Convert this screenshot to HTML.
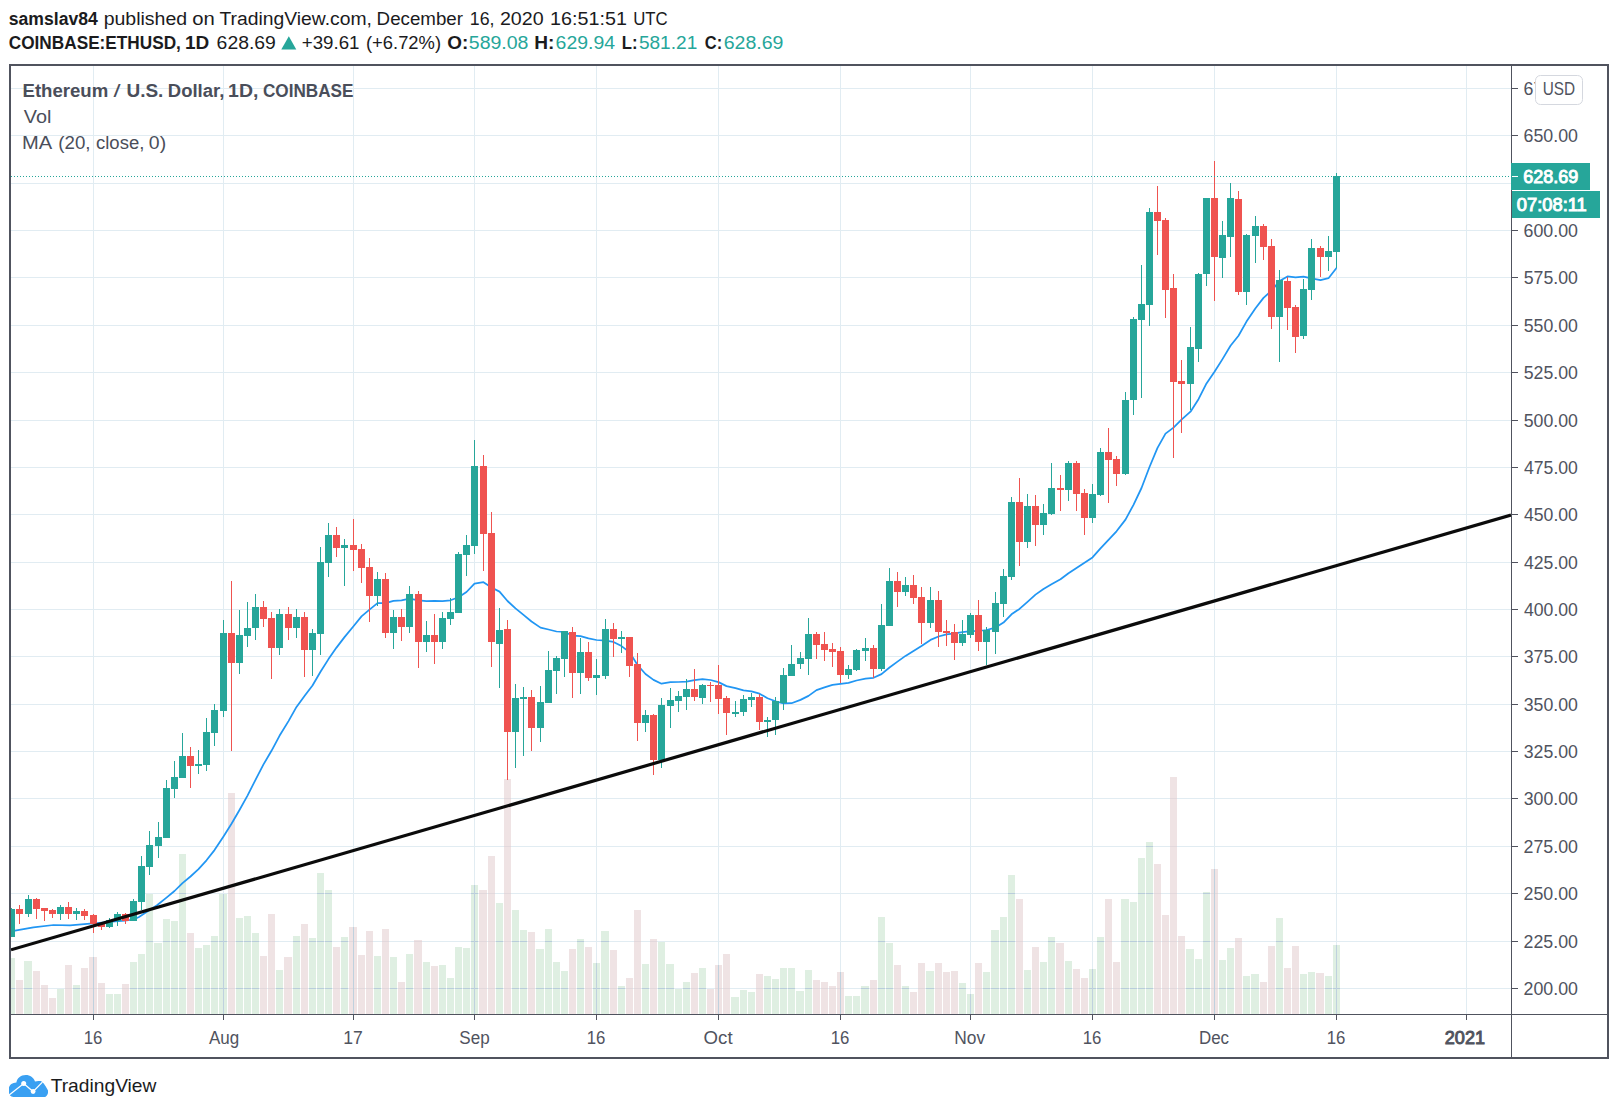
<!DOCTYPE html>
<html lang="en"><head><meta charset="utf-8"><title>ETHUSD chart</title>
<style>html,body{margin:0;padding:0;background:#fff}body{width:1618px;height:1113px;position:relative;overflow:hidden;font-family:"Liberation Sans",Arial,sans-serif}</style>
</head><body>
<svg width="1618" height="1113" viewBox="0 0 1618 1113" style="position:absolute;left:0;top:0">
<defs><clipPath id="pane"><rect x="11" y="66" width="1500" height="948"/></clipPath></defs>
<g shape-rendering="crispEdges" fill="#e1ecf2">
<rect x="11" y="988" width="1500" height="1"/>
<rect x="11" y="941" width="1500" height="1"/>
<rect x="11" y="893" width="1500" height="1"/>
<rect x="11" y="846" width="1500" height="1"/>
<rect x="11" y="798" width="1500" height="1"/>
<rect x="11" y="751" width="1500" height="1"/>
<rect x="11" y="704" width="1500" height="1"/>
<rect x="11" y="656" width="1500" height="1"/>
<rect x="11" y="609" width="1500" height="1"/>
<rect x="11" y="562" width="1500" height="1"/>
<rect x="11" y="514" width="1500" height="1"/>
<rect x="11" y="467" width="1500" height="1"/>
<rect x="11" y="420" width="1500" height="1"/>
<rect x="11" y="372" width="1500" height="1"/>
<rect x="11" y="325" width="1500" height="1"/>
<rect x="11" y="277" width="1500" height="1"/>
<rect x="11" y="230" width="1500" height="1"/>
<rect x="11" y="183" width="1500" height="1"/>
<rect x="11" y="135" width="1500" height="1"/>
<rect x="11" y="88" width="1500" height="1"/>
<rect x="93" y="66" width="1" height="948"/>
<rect x="223" y="66" width="1" height="948"/>
<rect x="353" y="66" width="1" height="948"/>
<rect x="474" y="66" width="1" height="948"/>
<rect x="596" y="66" width="1" height="948"/>
<rect x="718" y="66" width="1" height="948"/>
<rect x="840" y="66" width="1" height="948"/>
<rect x="970" y="66" width="1" height="948"/>
<rect x="1092" y="66" width="1" height="948"/>
<rect x="1214" y="66" width="1" height="948"/>
<rect x="1336" y="66" width="1" height="948"/>
<rect x="1466" y="66" width="1" height="948"/>
</g>
<g shape-rendering="crispEdges" clip-path="url(#pane)">
<rect x="8" y="958" width="7" height="56" fill="#dfefe2"/>
<rect x="8" y="988" width="7" height="1" fill="#b9cddb"/>
<rect x="16" y="980" width="7" height="34" fill="#efe3e4"/>
<rect x="16" y="988" width="7" height="1" fill="#e2d8dc"/>
<rect x="24" y="961" width="8" height="53" fill="#dfefe2"/>
<rect x="24" y="988" width="8" height="1" fill="#b9cddb"/>
<rect x="33" y="971" width="7" height="43" fill="#efe3e4"/>
<rect x="33" y="988" width="7" height="1" fill="#e2d8dc"/>
<rect x="41" y="985" width="7" height="29" fill="#efe3e4"/>
<rect x="41" y="988" width="7" height="1" fill="#e2d8dc"/>
<rect x="49" y="998" width="7" height="16" fill="#efe3e4"/>
<rect x="57" y="989" width="7" height="25" fill="#dfefe2"/>
<rect x="65" y="965" width="7" height="49" fill="#efe3e4"/>
<rect x="65" y="988" width="7" height="1" fill="#e2d8dc"/>
<rect x="73" y="985" width="7" height="29" fill="#dfefe2"/>
<rect x="73" y="988" width="7" height="1" fill="#b9cddb"/>
<rect x="81" y="968" width="7" height="46" fill="#efe3e4"/>
<rect x="81" y="988" width="7" height="1" fill="#e2d8dc"/>
<rect x="89" y="957" width="8" height="57" fill="#efe3e4"/>
<rect x="89" y="988" width="8" height="1" fill="#e2d8dc"/>
<rect x="98" y="983" width="7" height="31" fill="#efe3e4"/>
<rect x="98" y="988" width="7" height="1" fill="#e2d8dc"/>
<rect x="106" y="994" width="7" height="20" fill="#dfefe2"/>
<rect x="114" y="994" width="7" height="20" fill="#dfefe2"/>
<rect x="122" y="984" width="7" height="30" fill="#efe3e4"/>
<rect x="122" y="988" width="7" height="1" fill="#e2d8dc"/>
<rect x="130" y="962" width="7" height="52" fill="#dfefe2"/>
<rect x="130" y="988" width="7" height="1" fill="#b9cddb"/>
<rect x="138" y="954" width="7" height="60" fill="#dfefe2"/>
<rect x="138" y="988" width="7" height="1" fill="#b9cddb"/>
<rect x="146" y="894" width="7" height="120" fill="#dfefe2"/>
<rect x="146" y="988" width="7" height="1" fill="#b9cddb"/>
<rect x="146" y="941" width="7" height="1" fill="#b9cddb"/>
<rect x="154" y="943" width="8" height="71" fill="#dfefe2"/>
<rect x="154" y="988" width="8" height="1" fill="#b9cddb"/>
<rect x="163" y="919" width="7" height="95" fill="#dfefe2"/>
<rect x="163" y="988" width="7" height="1" fill="#b9cddb"/>
<rect x="163" y="941" width="7" height="1" fill="#b9cddb"/>
<rect x="171" y="921" width="7" height="93" fill="#dfefe2"/>
<rect x="171" y="988" width="7" height="1" fill="#b9cddb"/>
<rect x="171" y="941" width="7" height="1" fill="#b9cddb"/>
<rect x="179" y="854" width="7" height="160" fill="#dfefe2"/>
<rect x="179" y="988" width="7" height="1" fill="#b9cddb"/>
<rect x="179" y="941" width="7" height="1" fill="#b9cddb"/>
<rect x="179" y="893" width="7" height="1" fill="#b9cddb"/>
<rect x="187" y="933" width="7" height="81" fill="#efe3e4"/>
<rect x="187" y="988" width="7" height="1" fill="#e2d8dc"/>
<rect x="187" y="941" width="7" height="1" fill="#e2d8dc"/>
<rect x="195" y="948" width="7" height="66" fill="#dfefe2"/>
<rect x="195" y="988" width="7" height="1" fill="#b9cddb"/>
<rect x="203" y="945" width="7" height="69" fill="#dfefe2"/>
<rect x="203" y="988" width="7" height="1" fill="#b9cddb"/>
<rect x="211" y="936" width="7" height="78" fill="#dfefe2"/>
<rect x="211" y="988" width="7" height="1" fill="#b9cddb"/>
<rect x="211" y="941" width="7" height="1" fill="#b9cddb"/>
<rect x="219" y="894" width="8" height="120" fill="#dfefe2"/>
<rect x="219" y="988" width="8" height="1" fill="#b9cddb"/>
<rect x="219" y="941" width="8" height="1" fill="#b9cddb"/>
<rect x="228" y="793" width="7" height="221" fill="#efe3e4"/>
<rect x="228" y="988" width="7" height="1" fill="#e2d8dc"/>
<rect x="228" y="941" width="7" height="1" fill="#e2d8dc"/>
<rect x="228" y="893" width="7" height="1" fill="#e2d8dc"/>
<rect x="228" y="846" width="7" height="1" fill="#e2d8dc"/>
<rect x="228" y="798" width="7" height="1" fill="#e2d8dc"/>
<rect x="236" y="918" width="7" height="96" fill="#dfefe2"/>
<rect x="236" y="988" width="7" height="1" fill="#b9cddb"/>
<rect x="236" y="941" width="7" height="1" fill="#b9cddb"/>
<rect x="244" y="916" width="7" height="98" fill="#dfefe2"/>
<rect x="244" y="988" width="7" height="1" fill="#b9cddb"/>
<rect x="244" y="941" width="7" height="1" fill="#b9cddb"/>
<rect x="252" y="933" width="7" height="81" fill="#dfefe2"/>
<rect x="252" y="988" width="7" height="1" fill="#b9cddb"/>
<rect x="252" y="941" width="7" height="1" fill="#b9cddb"/>
<rect x="260" y="956" width="7" height="58" fill="#efe3e4"/>
<rect x="260" y="988" width="7" height="1" fill="#e2d8dc"/>
<rect x="268" y="914" width="7" height="100" fill="#efe3e4"/>
<rect x="268" y="988" width="7" height="1" fill="#e2d8dc"/>
<rect x="268" y="941" width="7" height="1" fill="#e2d8dc"/>
<rect x="276" y="970" width="7" height="44" fill="#dfefe2"/>
<rect x="276" y="988" width="7" height="1" fill="#b9cddb"/>
<rect x="284" y="957" width="8" height="57" fill="#efe3e4"/>
<rect x="284" y="988" width="8" height="1" fill="#e2d8dc"/>
<rect x="293" y="936" width="7" height="78" fill="#dfefe2"/>
<rect x="293" y="988" width="7" height="1" fill="#b9cddb"/>
<rect x="293" y="941" width="7" height="1" fill="#b9cddb"/>
<rect x="301" y="924" width="7" height="90" fill="#efe3e4"/>
<rect x="301" y="988" width="7" height="1" fill="#e2d8dc"/>
<rect x="301" y="941" width="7" height="1" fill="#e2d8dc"/>
<rect x="309" y="938" width="7" height="76" fill="#dfefe2"/>
<rect x="309" y="988" width="7" height="1" fill="#b9cddb"/>
<rect x="309" y="941" width="7" height="1" fill="#b9cddb"/>
<rect x="317" y="873" width="7" height="141" fill="#dfefe2"/>
<rect x="317" y="988" width="7" height="1" fill="#b9cddb"/>
<rect x="317" y="941" width="7" height="1" fill="#b9cddb"/>
<rect x="317" y="893" width="7" height="1" fill="#b9cddb"/>
<rect x="325" y="890" width="7" height="124" fill="#dfefe2"/>
<rect x="325" y="988" width="7" height="1" fill="#b9cddb"/>
<rect x="325" y="941" width="7" height="1" fill="#b9cddb"/>
<rect x="325" y="893" width="7" height="1" fill="#b9cddb"/>
<rect x="333" y="947" width="7" height="67" fill="#efe3e4"/>
<rect x="333" y="988" width="7" height="1" fill="#e2d8dc"/>
<rect x="341" y="937" width="7" height="77" fill="#dfefe2"/>
<rect x="341" y="988" width="7" height="1" fill="#b9cddb"/>
<rect x="341" y="941" width="7" height="1" fill="#b9cddb"/>
<rect x="349" y="927" width="8" height="87" fill="#efe3e4"/>
<rect x="349" y="988" width="8" height="1" fill="#e2d8dc"/>
<rect x="349" y="941" width="8" height="1" fill="#e2d8dc"/>
<rect x="358" y="955" width="7" height="59" fill="#efe3e4"/>
<rect x="358" y="988" width="7" height="1" fill="#e2d8dc"/>
<rect x="366" y="931" width="7" height="83" fill="#efe3e4"/>
<rect x="366" y="988" width="7" height="1" fill="#e2d8dc"/>
<rect x="366" y="941" width="7" height="1" fill="#e2d8dc"/>
<rect x="374" y="956" width="7" height="58" fill="#dfefe2"/>
<rect x="374" y="988" width="7" height="1" fill="#b9cddb"/>
<rect x="382" y="929" width="7" height="85" fill="#efe3e4"/>
<rect x="382" y="988" width="7" height="1" fill="#e2d8dc"/>
<rect x="382" y="941" width="7" height="1" fill="#e2d8dc"/>
<rect x="390" y="957" width="7" height="57" fill="#dfefe2"/>
<rect x="390" y="988" width="7" height="1" fill="#b9cddb"/>
<rect x="398" y="982" width="7" height="32" fill="#efe3e4"/>
<rect x="398" y="988" width="7" height="1" fill="#e2d8dc"/>
<rect x="406" y="954" width="7" height="60" fill="#dfefe2"/>
<rect x="406" y="988" width="7" height="1" fill="#b9cddb"/>
<rect x="414" y="940" width="8" height="74" fill="#efe3e4"/>
<rect x="414" y="988" width="8" height="1" fill="#e2d8dc"/>
<rect x="414" y="941" width="8" height="1" fill="#e2d8dc"/>
<rect x="423" y="962" width="7" height="52" fill="#dfefe2"/>
<rect x="423" y="988" width="7" height="1" fill="#b9cddb"/>
<rect x="431" y="966" width="7" height="48" fill="#efe3e4"/>
<rect x="431" y="988" width="7" height="1" fill="#e2d8dc"/>
<rect x="439" y="965" width="7" height="49" fill="#dfefe2"/>
<rect x="439" y="988" width="7" height="1" fill="#b9cddb"/>
<rect x="447" y="978" width="7" height="36" fill="#dfefe2"/>
<rect x="447" y="988" width="7" height="1" fill="#b9cddb"/>
<rect x="455" y="947" width="7" height="67" fill="#dfefe2"/>
<rect x="455" y="988" width="7" height="1" fill="#b9cddb"/>
<rect x="463" y="948" width="7" height="66" fill="#dfefe2"/>
<rect x="463" y="988" width="7" height="1" fill="#b9cddb"/>
<rect x="471" y="885" width="7" height="129" fill="#dfefe2"/>
<rect x="471" y="988" width="7" height="1" fill="#b9cddb"/>
<rect x="471" y="941" width="7" height="1" fill="#b9cddb"/>
<rect x="471" y="893" width="7" height="1" fill="#b9cddb"/>
<rect x="479" y="890" width="8" height="124" fill="#efe3e4"/>
<rect x="479" y="988" width="8" height="1" fill="#e2d8dc"/>
<rect x="479" y="941" width="8" height="1" fill="#e2d8dc"/>
<rect x="479" y="893" width="8" height="1" fill="#e2d8dc"/>
<rect x="488" y="856" width="7" height="158" fill="#efe3e4"/>
<rect x="488" y="988" width="7" height="1" fill="#e2d8dc"/>
<rect x="488" y="941" width="7" height="1" fill="#e2d8dc"/>
<rect x="488" y="893" width="7" height="1" fill="#e2d8dc"/>
<rect x="496" y="903" width="7" height="111" fill="#dfefe2"/>
<rect x="496" y="988" width="7" height="1" fill="#b9cddb"/>
<rect x="496" y="941" width="7" height="1" fill="#b9cddb"/>
<rect x="504" y="779" width="7" height="235" fill="#efe3e4"/>
<rect x="504" y="988" width="7" height="1" fill="#e2d8dc"/>
<rect x="504" y="941" width="7" height="1" fill="#e2d8dc"/>
<rect x="504" y="893" width="7" height="1" fill="#e2d8dc"/>
<rect x="504" y="846" width="7" height="1" fill="#e2d8dc"/>
<rect x="504" y="798" width="7" height="1" fill="#e2d8dc"/>
<rect x="512" y="910" width="7" height="104" fill="#dfefe2"/>
<rect x="512" y="988" width="7" height="1" fill="#b9cddb"/>
<rect x="512" y="941" width="7" height="1" fill="#b9cddb"/>
<rect x="520" y="930" width="7" height="84" fill="#dfefe2"/>
<rect x="520" y="988" width="7" height="1" fill="#b9cddb"/>
<rect x="520" y="941" width="7" height="1" fill="#b9cddb"/>
<rect x="528" y="932" width="7" height="82" fill="#efe3e4"/>
<rect x="528" y="988" width="7" height="1" fill="#e2d8dc"/>
<rect x="528" y="941" width="7" height="1" fill="#e2d8dc"/>
<rect x="536" y="949" width="8" height="65" fill="#dfefe2"/>
<rect x="536" y="988" width="8" height="1" fill="#b9cddb"/>
<rect x="545" y="929" width="7" height="85" fill="#dfefe2"/>
<rect x="545" y="988" width="7" height="1" fill="#b9cddb"/>
<rect x="545" y="941" width="7" height="1" fill="#b9cddb"/>
<rect x="553" y="962" width="7" height="52" fill="#dfefe2"/>
<rect x="553" y="988" width="7" height="1" fill="#b9cddb"/>
<rect x="561" y="971" width="7" height="43" fill="#dfefe2"/>
<rect x="561" y="988" width="7" height="1" fill="#b9cddb"/>
<rect x="569" y="949" width="7" height="65" fill="#efe3e4"/>
<rect x="569" y="988" width="7" height="1" fill="#e2d8dc"/>
<rect x="577" y="939" width="7" height="75" fill="#dfefe2"/>
<rect x="577" y="988" width="7" height="1" fill="#b9cddb"/>
<rect x="577" y="941" width="7" height="1" fill="#b9cddb"/>
<rect x="585" y="947" width="7" height="67" fill="#efe3e4"/>
<rect x="585" y="988" width="7" height="1" fill="#e2d8dc"/>
<rect x="593" y="963" width="7" height="51" fill="#dfefe2"/>
<rect x="593" y="988" width="7" height="1" fill="#b9cddb"/>
<rect x="601" y="931" width="8" height="83" fill="#dfefe2"/>
<rect x="601" y="988" width="8" height="1" fill="#b9cddb"/>
<rect x="601" y="941" width="8" height="1" fill="#b9cddb"/>
<rect x="610" y="950" width="7" height="64" fill="#efe3e4"/>
<rect x="610" y="988" width="7" height="1" fill="#e2d8dc"/>
<rect x="618" y="986" width="7" height="28" fill="#dfefe2"/>
<rect x="618" y="988" width="7" height="1" fill="#b9cddb"/>
<rect x="626" y="978" width="7" height="36" fill="#efe3e4"/>
<rect x="626" y="988" width="7" height="1" fill="#e2d8dc"/>
<rect x="634" y="910" width="7" height="104" fill="#efe3e4"/>
<rect x="634" y="988" width="7" height="1" fill="#e2d8dc"/>
<rect x="634" y="941" width="7" height="1" fill="#e2d8dc"/>
<rect x="642" y="964" width="7" height="50" fill="#dfefe2"/>
<rect x="642" y="988" width="7" height="1" fill="#b9cddb"/>
<rect x="650" y="939" width="7" height="75" fill="#efe3e4"/>
<rect x="650" y="988" width="7" height="1" fill="#e2d8dc"/>
<rect x="650" y="941" width="7" height="1" fill="#e2d8dc"/>
<rect x="658" y="942" width="7" height="72" fill="#dfefe2"/>
<rect x="658" y="988" width="7" height="1" fill="#b9cddb"/>
<rect x="666" y="964" width="8" height="50" fill="#dfefe2"/>
<rect x="666" y="988" width="8" height="1" fill="#b9cddb"/>
<rect x="675" y="989" width="7" height="25" fill="#dfefe2"/>
<rect x="683" y="982" width="7" height="32" fill="#dfefe2"/>
<rect x="683" y="988" width="7" height="1" fill="#b9cddb"/>
<rect x="691" y="973" width="7" height="41" fill="#efe3e4"/>
<rect x="691" y="988" width="7" height="1" fill="#e2d8dc"/>
<rect x="699" y="968" width="7" height="46" fill="#dfefe2"/>
<rect x="699" y="988" width="7" height="1" fill="#b9cddb"/>
<rect x="707" y="989" width="7" height="25" fill="#efe3e4"/>
<rect x="715" y="965" width="7" height="49" fill="#efe3e4"/>
<rect x="715" y="988" width="7" height="1" fill="#e2d8dc"/>
<rect x="723" y="954" width="7" height="60" fill="#efe3e4"/>
<rect x="723" y="988" width="7" height="1" fill="#e2d8dc"/>
<rect x="731" y="997" width="8" height="17" fill="#dfefe2"/>
<rect x="740" y="990" width="7" height="24" fill="#dfefe2"/>
<rect x="748" y="992" width="7" height="22" fill="#dfefe2"/>
<rect x="756" y="974" width="7" height="40" fill="#efe3e4"/>
<rect x="756" y="988" width="7" height="1" fill="#e2d8dc"/>
<rect x="764" y="976" width="7" height="38" fill="#dfefe2"/>
<rect x="764" y="988" width="7" height="1" fill="#b9cddb"/>
<rect x="772" y="979" width="7" height="35" fill="#dfefe2"/>
<rect x="772" y="988" width="7" height="1" fill="#b9cddb"/>
<rect x="780" y="968" width="7" height="46" fill="#dfefe2"/>
<rect x="780" y="988" width="7" height="1" fill="#b9cddb"/>
<rect x="788" y="968" width="7" height="46" fill="#dfefe2"/>
<rect x="788" y="988" width="7" height="1" fill="#b9cddb"/>
<rect x="796" y="991" width="8" height="23" fill="#dfefe2"/>
<rect x="805" y="970" width="7" height="44" fill="#dfefe2"/>
<rect x="805" y="988" width="7" height="1" fill="#b9cddb"/>
<rect x="813" y="980" width="7" height="34" fill="#efe3e4"/>
<rect x="813" y="988" width="7" height="1" fill="#e2d8dc"/>
<rect x="821" y="982" width="7" height="32" fill="#efe3e4"/>
<rect x="821" y="988" width="7" height="1" fill="#e2d8dc"/>
<rect x="829" y="986" width="7" height="28" fill="#efe3e4"/>
<rect x="829" y="988" width="7" height="1" fill="#e2d8dc"/>
<rect x="837" y="972" width="7" height="42" fill="#efe3e4"/>
<rect x="837" y="988" width="7" height="1" fill="#e2d8dc"/>
<rect x="845" y="996" width="7" height="18" fill="#dfefe2"/>
<rect x="853" y="996" width="7" height="18" fill="#dfefe2"/>
<rect x="861" y="986" width="8" height="28" fill="#dfefe2"/>
<rect x="861" y="988" width="8" height="1" fill="#b9cddb"/>
<rect x="870" y="980" width="7" height="34" fill="#efe3e4"/>
<rect x="870" y="988" width="7" height="1" fill="#e2d8dc"/>
<rect x="878" y="917" width="7" height="97" fill="#dfefe2"/>
<rect x="878" y="988" width="7" height="1" fill="#b9cddb"/>
<rect x="878" y="941" width="7" height="1" fill="#b9cddb"/>
<rect x="886" y="943" width="7" height="71" fill="#dfefe2"/>
<rect x="886" y="988" width="7" height="1" fill="#b9cddb"/>
<rect x="894" y="965" width="7" height="49" fill="#efe3e4"/>
<rect x="894" y="988" width="7" height="1" fill="#e2d8dc"/>
<rect x="902" y="986" width="7" height="28" fill="#dfefe2"/>
<rect x="902" y="988" width="7" height="1" fill="#b9cddb"/>
<rect x="910" y="992" width="7" height="22" fill="#efe3e4"/>
<rect x="918" y="963" width="7" height="51" fill="#efe3e4"/>
<rect x="918" y="988" width="7" height="1" fill="#e2d8dc"/>
<rect x="926" y="971" width="8" height="43" fill="#dfefe2"/>
<rect x="926" y="988" width="8" height="1" fill="#b9cddb"/>
<rect x="935" y="963" width="7" height="51" fill="#efe3e4"/>
<rect x="935" y="988" width="7" height="1" fill="#e2d8dc"/>
<rect x="943" y="972" width="7" height="42" fill="#efe3e4"/>
<rect x="943" y="988" width="7" height="1" fill="#e2d8dc"/>
<rect x="951" y="971" width="7" height="43" fill="#efe3e4"/>
<rect x="951" y="988" width="7" height="1" fill="#e2d8dc"/>
<rect x="959" y="983" width="7" height="31" fill="#dfefe2"/>
<rect x="959" y="988" width="7" height="1" fill="#b9cddb"/>
<rect x="967" y="994" width="7" height="20" fill="#dfefe2"/>
<rect x="975" y="963" width="7" height="51" fill="#efe3e4"/>
<rect x="975" y="988" width="7" height="1" fill="#e2d8dc"/>
<rect x="983" y="972" width="7" height="42" fill="#dfefe2"/>
<rect x="983" y="988" width="7" height="1" fill="#b9cddb"/>
<rect x="991" y="930" width="8" height="84" fill="#dfefe2"/>
<rect x="991" y="988" width="8" height="1" fill="#b9cddb"/>
<rect x="991" y="941" width="8" height="1" fill="#b9cddb"/>
<rect x="1000" y="917" width="7" height="97" fill="#dfefe2"/>
<rect x="1000" y="988" width="7" height="1" fill="#b9cddb"/>
<rect x="1000" y="941" width="7" height="1" fill="#b9cddb"/>
<rect x="1008" y="875" width="7" height="139" fill="#dfefe2"/>
<rect x="1008" y="988" width="7" height="1" fill="#b9cddb"/>
<rect x="1008" y="941" width="7" height="1" fill="#b9cddb"/>
<rect x="1008" y="893" width="7" height="1" fill="#b9cddb"/>
<rect x="1016" y="899" width="7" height="115" fill="#efe3e4"/>
<rect x="1016" y="988" width="7" height="1" fill="#e2d8dc"/>
<rect x="1016" y="941" width="7" height="1" fill="#e2d8dc"/>
<rect x="1024" y="970" width="7" height="44" fill="#dfefe2"/>
<rect x="1024" y="988" width="7" height="1" fill="#b9cddb"/>
<rect x="1032" y="947" width="7" height="67" fill="#efe3e4"/>
<rect x="1032" y="988" width="7" height="1" fill="#e2d8dc"/>
<rect x="1040" y="962" width="7" height="52" fill="#dfefe2"/>
<rect x="1040" y="988" width="7" height="1" fill="#b9cddb"/>
<rect x="1048" y="937" width="7" height="77" fill="#dfefe2"/>
<rect x="1048" y="988" width="7" height="1" fill="#b9cddb"/>
<rect x="1048" y="941" width="7" height="1" fill="#b9cddb"/>
<rect x="1056" y="943" width="8" height="71" fill="#efe3e4"/>
<rect x="1056" y="988" width="8" height="1" fill="#e2d8dc"/>
<rect x="1065" y="961" width="7" height="53" fill="#dfefe2"/>
<rect x="1065" y="988" width="7" height="1" fill="#b9cddb"/>
<rect x="1073" y="969" width="7" height="45" fill="#efe3e4"/>
<rect x="1073" y="988" width="7" height="1" fill="#e2d8dc"/>
<rect x="1081" y="978" width="7" height="36" fill="#efe3e4"/>
<rect x="1081" y="988" width="7" height="1" fill="#e2d8dc"/>
<rect x="1089" y="969" width="7" height="45" fill="#dfefe2"/>
<rect x="1089" y="988" width="7" height="1" fill="#b9cddb"/>
<rect x="1097" y="937" width="7" height="77" fill="#dfefe2"/>
<rect x="1097" y="988" width="7" height="1" fill="#b9cddb"/>
<rect x="1097" y="941" width="7" height="1" fill="#b9cddb"/>
<rect x="1105" y="899" width="7" height="115" fill="#efe3e4"/>
<rect x="1105" y="988" width="7" height="1" fill="#e2d8dc"/>
<rect x="1105" y="941" width="7" height="1" fill="#e2d8dc"/>
<rect x="1113" y="962" width="7" height="52" fill="#efe3e4"/>
<rect x="1113" y="988" width="7" height="1" fill="#e2d8dc"/>
<rect x="1121" y="899" width="8" height="115" fill="#dfefe2"/>
<rect x="1121" y="988" width="8" height="1" fill="#b9cddb"/>
<rect x="1121" y="941" width="8" height="1" fill="#b9cddb"/>
<rect x="1130" y="902" width="7" height="112" fill="#dfefe2"/>
<rect x="1130" y="988" width="7" height="1" fill="#b9cddb"/>
<rect x="1130" y="941" width="7" height="1" fill="#b9cddb"/>
<rect x="1138" y="858" width="7" height="156" fill="#dfefe2"/>
<rect x="1138" y="988" width="7" height="1" fill="#b9cddb"/>
<rect x="1138" y="941" width="7" height="1" fill="#b9cddb"/>
<rect x="1138" y="893" width="7" height="1" fill="#b9cddb"/>
<rect x="1146" y="842" width="7" height="172" fill="#dfefe2"/>
<rect x="1146" y="988" width="7" height="1" fill="#b9cddb"/>
<rect x="1146" y="941" width="7" height="1" fill="#b9cddb"/>
<rect x="1146" y="893" width="7" height="1" fill="#b9cddb"/>
<rect x="1146" y="846" width="7" height="1" fill="#b9cddb"/>
<rect x="1154" y="864" width="7" height="150" fill="#efe3e4"/>
<rect x="1154" y="988" width="7" height="1" fill="#e2d8dc"/>
<rect x="1154" y="941" width="7" height="1" fill="#e2d8dc"/>
<rect x="1154" y="893" width="7" height="1" fill="#e2d8dc"/>
<rect x="1162" y="915" width="7" height="99" fill="#efe3e4"/>
<rect x="1162" y="988" width="7" height="1" fill="#e2d8dc"/>
<rect x="1162" y="941" width="7" height="1" fill="#e2d8dc"/>
<rect x="1170" y="777" width="7" height="237" fill="#efe3e4"/>
<rect x="1170" y="988" width="7" height="1" fill="#e2d8dc"/>
<rect x="1170" y="941" width="7" height="1" fill="#e2d8dc"/>
<rect x="1170" y="893" width="7" height="1" fill="#e2d8dc"/>
<rect x="1170" y="846" width="7" height="1" fill="#e2d8dc"/>
<rect x="1170" y="798" width="7" height="1" fill="#e2d8dc"/>
<rect x="1178" y="936" width="7" height="78" fill="#efe3e4"/>
<rect x="1178" y="988" width="7" height="1" fill="#e2d8dc"/>
<rect x="1178" y="941" width="7" height="1" fill="#e2d8dc"/>
<rect x="1186" y="949" width="8" height="65" fill="#dfefe2"/>
<rect x="1186" y="988" width="8" height="1" fill="#b9cddb"/>
<rect x="1195" y="959" width="7" height="55" fill="#dfefe2"/>
<rect x="1195" y="988" width="7" height="1" fill="#b9cddb"/>
<rect x="1203" y="892" width="7" height="122" fill="#dfefe2"/>
<rect x="1203" y="988" width="7" height="1" fill="#b9cddb"/>
<rect x="1203" y="941" width="7" height="1" fill="#b9cddb"/>
<rect x="1203" y="893" width="7" height="1" fill="#b9cddb"/>
<rect x="1211" y="869" width="7" height="145" fill="#efe3e4"/>
<rect x="1211" y="988" width="7" height="1" fill="#e2d8dc"/>
<rect x="1211" y="941" width="7" height="1" fill="#e2d8dc"/>
<rect x="1211" y="893" width="7" height="1" fill="#e2d8dc"/>
<rect x="1219" y="960" width="7" height="54" fill="#dfefe2"/>
<rect x="1219" y="988" width="7" height="1" fill="#b9cddb"/>
<rect x="1227" y="948" width="7" height="66" fill="#dfefe2"/>
<rect x="1227" y="988" width="7" height="1" fill="#b9cddb"/>
<rect x="1235" y="938" width="7" height="76" fill="#efe3e4"/>
<rect x="1235" y="988" width="7" height="1" fill="#e2d8dc"/>
<rect x="1235" y="941" width="7" height="1" fill="#e2d8dc"/>
<rect x="1243" y="976" width="7" height="38" fill="#dfefe2"/>
<rect x="1243" y="988" width="7" height="1" fill="#b9cddb"/>
<rect x="1251" y="974" width="8" height="40" fill="#dfefe2"/>
<rect x="1251" y="988" width="8" height="1" fill="#b9cddb"/>
<rect x="1260" y="982" width="7" height="32" fill="#efe3e4"/>
<rect x="1260" y="988" width="7" height="1" fill="#e2d8dc"/>
<rect x="1268" y="946" width="7" height="68" fill="#efe3e4"/>
<rect x="1268" y="988" width="7" height="1" fill="#e2d8dc"/>
<rect x="1276" y="918" width="7" height="96" fill="#dfefe2"/>
<rect x="1276" y="988" width="7" height="1" fill="#b9cddb"/>
<rect x="1276" y="941" width="7" height="1" fill="#b9cddb"/>
<rect x="1284" y="968" width="7" height="46" fill="#efe3e4"/>
<rect x="1284" y="988" width="7" height="1" fill="#e2d8dc"/>
<rect x="1292" y="946" width="7" height="68" fill="#efe3e4"/>
<rect x="1292" y="988" width="7" height="1" fill="#e2d8dc"/>
<rect x="1300" y="974" width="7" height="40" fill="#dfefe2"/>
<rect x="1300" y="988" width="7" height="1" fill="#b9cddb"/>
<rect x="1308" y="972" width="7" height="42" fill="#dfefe2"/>
<rect x="1308" y="988" width="7" height="1" fill="#b9cddb"/>
<rect x="1316" y="973" width="8" height="41" fill="#efe3e4"/>
<rect x="1316" y="988" width="8" height="1" fill="#e2d8dc"/>
<rect x="1325" y="976" width="7" height="38" fill="#dfefe2"/>
<rect x="1325" y="988" width="7" height="1" fill="#b9cddb"/>
<rect x="1333" y="945" width="7" height="69" fill="#dfefe2"/>
<rect x="1333" y="988" width="7" height="1" fill="#b9cddb"/>
</g>
<g shape-rendering="crispEdges" fill="#bfd1de">
<rect x="93" y="957" width="1" height="57"/>
<rect x="223" y="894" width="1" height="120"/>
<rect x="353" y="927" width="1" height="87"/>
<rect x="474" y="885" width="1" height="129"/>
<rect x="596" y="963" width="1" height="51"/>
<rect x="718" y="965" width="1" height="49"/>
<rect x="840" y="972" width="1" height="42"/>
<rect x="970" y="994" width="1" height="20"/>
<rect x="1092" y="969" width="1" height="45"/>
<rect x="1214" y="869" width="1" height="145"/>
<rect x="1336" y="945" width="1" height="69"/>
</g>
<polyline points="11.0,931.3 15.0,930.7 33.4,927.3 53.5,925.0 70.0,925.3 90.0,923.7 108.6,922.0 125.0,920.6 133.7,919.5 139.0,917.0 145.4,912.8 157.0,905.3 166.5,897.6 174.5,891.0 182.5,883.1 190.5,876.5 198.5,869.2 206.5,860.3 214.5,850.1 223.5,836.4 231.5,823.8 239.5,810.0 247.5,795.6 255.5,779.8 263.5,764.4 271.5,750.8 279.5,735.8 288.5,721.1 296.5,706.9 304.5,696.1 312.5,685.5 320.5,671.7 328.5,659.1 336.5,647.6 344.5,637.1 353.5,626.3 361.5,616.4 369.5,609.6 377.5,603.1 385.5,603.1 393.5,600.8 401.5,600.4 409.5,598.7 418.5,600.4 426.5,601.2 434.5,600.9 442.5,601.1 450.5,600.3 458.5,597.2 466.5,592.0 474.5,583.6 483.5,582.2 491.5,587.5 499.5,591.6 507.5,601.0 515.5,608.4 523.5,614.9 531.5,621.5 540.5,627.6 548.5,629.5 556.5,631.5 564.5,631.8 572.5,635.7 580.5,636.2 588.5,638.4 596.5,640.0 605.5,640.6 613.5,641.9 621.5,646.1 629.5,652.1 637.5,665.0 645.5,674.0 653.5,679.9 661.5,683.7 670.5,682.1 678.5,682.0 686.5,681.6 694.5,680.1 702.5,679.2 710.5,680.0 718.5,682.1 726.5,686.1 735.5,688.1 743.5,690.4 751.5,691.4 759.5,693.7 767.5,698.2 775.5,701.3 783.5,703.3 791.5,703.2 800.5,699.9 808.5,695.9 816.5,690.1 824.5,687.4 832.5,684.9 840.5,683.9 848.5,682.9 856.5,680.5 865.5,678.7 873.5,677.8 881.5,674.1 889.5,667.5 897.5,661.6 905.5,655.9 913.5,650.9 921.5,645.9 930.5,639.9 938.5,636.5 946.5,634.3 954.5,633.3 962.5,632.1 970.5,631.1 978.5,631.0 986.5,630.0 995.5,627.6 1003.5,622.6 1011.5,614.3 1019.5,608.9 1027.5,601.8 1035.5,594.6 1043.5,589.0 1051.5,584.3 1060.5,579.3 1068.5,573.2 1076.5,568.0 1084.5,562.7 1092.5,557.4 1100.5,548.4 1108.5,539.8 1116.5,531.3 1125.5,519.6 1133.5,504.8 1141.5,488.0 1149.5,467.0 1157.5,447.9 1165.5,433.6 1173.5,427.6 1181.5,419.6 1190.5,411.7 1198.5,399.2 1206.5,383.4 1214.5,371.8 1222.5,359.1 1230.5,345.8 1238.5,335.7 1246.5,321.6 1255.5,308.2 1263.5,297.9 1271.5,290.7 1279.5,281.1 1287.5,276.4 1295.5,277.3 1303.5,276.6 1311.5,278.4 1320.5,280.2 1328.5,278.2 1336.5,268.0" fill="none" stroke="#2196f3" stroke-width="1.75" stroke-linejoin="round" clip-path="url(#pane)"/>
<g shape-rendering="crispEdges" clip-path="url(#pane)">
<rect x="11" y="908" width="1" height="29" fill="#26a69a"/><rect x="8" y="909" width="7" height="28" fill="#26a69a"/>
<rect x="19" y="905" width="1" height="19" fill="#ef5350"/><rect x="16" y="909" width="7" height="5" fill="#ef5350"/>
<rect x="28" y="895" width="1" height="22" fill="#26a69a"/><rect x="25" y="899" width="7" height="15" fill="#26a69a"/>
<rect x="36" y="898" width="1" height="21" fill="#ef5350"/><rect x="33" y="899" width="7" height="10" fill="#ef5350"/>
<rect x="44" y="908" width="1" height="13" fill="#ef5350"/><rect x="41" y="908" width="7" height="3" fill="#ef5350"/>
<rect x="52" y="909" width="1" height="9" fill="#ef5350"/><rect x="49" y="910" width="7" height="4" fill="#ef5350"/>
<rect x="60" y="905" width="1" height="15" fill="#26a69a"/><rect x="57" y="907" width="7" height="7" fill="#26a69a"/>
<rect x="68" y="902" width="1" height="17" fill="#ef5350"/><rect x="65" y="907" width="7" height="7" fill="#ef5350"/>
<rect x="76" y="908" width="1" height="12" fill="#26a69a"/><rect x="73" y="911" width="7" height="3" fill="#26a69a"/>
<rect x="84" y="909" width="1" height="11" fill="#ef5350"/><rect x="81" y="911" width="7" height="5" fill="#ef5350"/>
<rect x="93" y="914" width="1" height="19" fill="#ef5350"/><rect x="90" y="915" width="7" height="9" fill="#ef5350"/>
<rect x="101" y="924" width="1" height="6" fill="#ef5350"/><rect x="98" y="924" width="7" height="3" fill="#ef5350"/>
<rect x="109" y="918" width="1" height="10" fill="#26a69a"/><rect x="106" y="920" width="7" height="7" fill="#26a69a"/>
<rect x="117" y="912" width="1" height="14" fill="#26a69a"/><rect x="114" y="914" width="7" height="7" fill="#26a69a"/>
<rect x="125" y="913" width="1" height="11" fill="#ef5350"/><rect x="122" y="914" width="7" height="7" fill="#ef5350"/>
<rect x="133" y="899" width="1" height="22" fill="#26a69a"/><rect x="130" y="901" width="7" height="20" fill="#26a69a"/>
<rect x="141" y="856" width="1" height="54" fill="#26a69a"/><rect x="138" y="866" width="7" height="36" fill="#26a69a"/>
<rect x="149" y="831" width="1" height="44" fill="#26a69a"/><rect x="146" y="845" width="7" height="22" fill="#26a69a"/>
<rect x="158" y="822" width="1" height="36" fill="#26a69a"/><rect x="155" y="837" width="7" height="9" fill="#26a69a"/>
<rect x="166" y="780" width="1" height="58" fill="#26a69a"/><rect x="163" y="788" width="7" height="50" fill="#26a69a"/>
<rect x="174" y="761" width="1" height="37" fill="#26a69a"/><rect x="171" y="777" width="7" height="12" fill="#26a69a"/>
<rect x="182" y="733" width="1" height="45" fill="#26a69a"/><rect x="179" y="756" width="7" height="22" fill="#26a69a"/>
<rect x="190" y="747" width="1" height="41" fill="#ef5350"/><rect x="187" y="756" width="7" height="10" fill="#ef5350"/>
<rect x="198" y="750" width="1" height="24" fill="#26a69a"/><rect x="195" y="764" width="7" height="2" fill="#26a69a"/>
<rect x="206" y="718" width="1" height="53" fill="#26a69a"/><rect x="203" y="732" width="7" height="33" fill="#26a69a"/>
<rect x="214" y="704" width="1" height="42" fill="#26a69a"/><rect x="211" y="710" width="7" height="23" fill="#26a69a"/>
<rect x="223" y="620" width="1" height="97" fill="#26a69a"/><rect x="220" y="633" width="7" height="78" fill="#26a69a"/>
<rect x="231" y="581" width="1" height="170" fill="#ef5350"/><rect x="228" y="633" width="7" height="30" fill="#ef5350"/>
<rect x="239" y="610" width="1" height="64" fill="#26a69a"/><rect x="236" y="635" width="7" height="28" fill="#26a69a"/>
<rect x="247" y="602" width="1" height="45" fill="#26a69a"/><rect x="244" y="628" width="7" height="8" fill="#26a69a"/>
<rect x="255" y="594" width="1" height="46" fill="#26a69a"/><rect x="252" y="607" width="7" height="21" fill="#26a69a"/>
<rect x="263" y="601" width="1" height="26" fill="#ef5350"/><rect x="260" y="607" width="7" height="12" fill="#ef5350"/>
<rect x="271" y="612" width="1" height="67" fill="#ef5350"/><rect x="268" y="618" width="7" height="30" fill="#ef5350"/>
<rect x="279" y="609" width="1" height="46" fill="#26a69a"/><rect x="276" y="614" width="7" height="34" fill="#26a69a"/>
<rect x="288" y="607" width="1" height="33" fill="#ef5350"/><rect x="285" y="614" width="7" height="14" fill="#ef5350"/>
<rect x="296" y="609" width="1" height="29" fill="#26a69a"/><rect x="293" y="617" width="7" height="11" fill="#26a69a"/>
<rect x="304" y="612" width="1" height="65" fill="#ef5350"/><rect x="301" y="617" width="7" height="33" fill="#ef5350"/>
<rect x="312" y="629" width="1" height="47" fill="#26a69a"/><rect x="309" y="633" width="7" height="17" fill="#26a69a"/>
<rect x="320" y="547" width="1" height="108" fill="#26a69a"/><rect x="317" y="562" width="7" height="72" fill="#26a69a"/>
<rect x="328" y="523" width="1" height="54" fill="#26a69a"/><rect x="325" y="535" width="7" height="28" fill="#26a69a"/>
<rect x="336" y="527" width="1" height="30" fill="#ef5350"/><rect x="333" y="535" width="7" height="13" fill="#ef5350"/>
<rect x="344" y="539" width="1" height="47" fill="#26a69a"/><rect x="341" y="545" width="7" height="3" fill="#26a69a"/>
<rect x="353" y="519" width="1" height="52" fill="#ef5350"/><rect x="350" y="545" width="7" height="5" fill="#ef5350"/>
<rect x="361" y="544" width="1" height="39" fill="#ef5350"/><rect x="358" y="549" width="7" height="19" fill="#ef5350"/>
<rect x="369" y="558" width="1" height="64" fill="#ef5350"/><rect x="366" y="567" width="7" height="29" fill="#ef5350"/>
<rect x="377" y="572" width="1" height="34" fill="#26a69a"/><rect x="374" y="579" width="7" height="17" fill="#26a69a"/>
<rect x="385" y="573" width="1" height="65" fill="#ef5350"/><rect x="382" y="579" width="7" height="54" fill="#ef5350"/>
<rect x="393" y="610" width="1" height="39" fill="#26a69a"/><rect x="390" y="617" width="7" height="16" fill="#26a69a"/>
<rect x="401" y="609" width="1" height="32" fill="#ef5350"/><rect x="398" y="617" width="7" height="10" fill="#ef5350"/>
<rect x="409" y="586" width="1" height="47" fill="#26a69a"/><rect x="406" y="594" width="7" height="33" fill="#26a69a"/>
<rect x="418" y="591" width="1" height="77" fill="#ef5350"/><rect x="415" y="594" width="7" height="48" fill="#ef5350"/>
<rect x="426" y="621" width="1" height="31" fill="#26a69a"/><rect x="423" y="635" width="7" height="7" fill="#26a69a"/>
<rect x="434" y="614" width="1" height="50" fill="#ef5350"/><rect x="431" y="635" width="7" height="7" fill="#ef5350"/>
<rect x="442" y="612" width="1" height="37" fill="#26a69a"/><rect x="439" y="618" width="7" height="24" fill="#26a69a"/>
<rect x="450" y="598" width="1" height="27" fill="#26a69a"/><rect x="447" y="612" width="7" height="7" fill="#26a69a"/>
<rect x="458" y="552" width="1" height="61" fill="#26a69a"/><rect x="455" y="554" width="7" height="59" fill="#26a69a"/>
<rect x="466" y="535" width="1" height="41" fill="#26a69a"/><rect x="463" y="545" width="7" height="10" fill="#26a69a"/>
<rect x="474" y="440" width="1" height="114" fill="#26a69a"/><rect x="471" y="466" width="7" height="80" fill="#26a69a"/>
<rect x="483" y="455" width="1" height="116" fill="#ef5350"/><rect x="480" y="466" width="7" height="68" fill="#ef5350"/>
<rect x="491" y="512" width="1" height="155" fill="#ef5350"/><rect x="488" y="533" width="7" height="109" fill="#ef5350"/>
<rect x="499" y="608" width="1" height="80" fill="#26a69a"/><rect x="496" y="630" width="7" height="14" fill="#26a69a"/>
<rect x="507" y="620" width="1" height="160" fill="#ef5350"/><rect x="504" y="629" width="7" height="103" fill="#ef5350"/>
<rect x="515" y="684" width="1" height="84" fill="#26a69a"/><rect x="512" y="698" width="7" height="34" fill="#26a69a"/>
<rect x="523" y="687" width="1" height="69" fill="#26a69a"/><rect x="520" y="697" width="7" height="2" fill="#26a69a"/>
<rect x="531" y="690" width="1" height="61" fill="#ef5350"/><rect x="528" y="697" width="7" height="31" fill="#ef5350"/>
<rect x="540" y="686" width="1" height="56" fill="#26a69a"/><rect x="537" y="702" width="7" height="26" fill="#26a69a"/>
<rect x="548" y="651" width="1" height="52" fill="#26a69a"/><rect x="545" y="670" width="7" height="33" fill="#26a69a"/>
<rect x="556" y="656" width="1" height="38" fill="#26a69a"/><rect x="553" y="658" width="7" height="13" fill="#26a69a"/>
<rect x="564" y="631" width="1" height="46" fill="#26a69a"/><rect x="561" y="631" width="7" height="28" fill="#26a69a"/>
<rect x="572" y="627" width="1" height="71" fill="#ef5350"/><rect x="569" y="632" width="7" height="41" fill="#ef5350"/>
<rect x="580" y="638" width="1" height="56" fill="#26a69a"/><rect x="577" y="652" width="7" height="21" fill="#26a69a"/>
<rect x="588" y="642" width="1" height="39" fill="#ef5350"/><rect x="585" y="652" width="7" height="26" fill="#ef5350"/>
<rect x="596" y="659" width="1" height="36" fill="#26a69a"/><rect x="593" y="675" width="7" height="3" fill="#26a69a"/>
<rect x="605" y="619" width="1" height="60" fill="#26a69a"/><rect x="602" y="629" width="7" height="47" fill="#26a69a"/>
<rect x="613" y="623" width="1" height="34" fill="#ef5350"/><rect x="610" y="629" width="7" height="10" fill="#ef5350"/>
<rect x="621" y="631" width="1" height="22" fill="#26a69a"/><rect x="618" y="637" width="7" height="2" fill="#26a69a"/>
<rect x="629" y="637" width="1" height="40" fill="#ef5350"/><rect x="626" y="637" width="7" height="29" fill="#ef5350"/>
<rect x="637" y="653" width="1" height="88" fill="#ef5350"/><rect x="634" y="664" width="7" height="59" fill="#ef5350"/>
<rect x="645" y="710" width="1" height="22" fill="#26a69a"/><rect x="642" y="715" width="7" height="8" fill="#26a69a"/>
<rect x="653" y="714" width="1" height="61" fill="#ef5350"/><rect x="650" y="715" width="7" height="45" fill="#ef5350"/>
<rect x="661" y="698" width="1" height="70" fill="#26a69a"/><rect x="658" y="705" width="7" height="55" fill="#26a69a"/>
<rect x="670" y="688" width="1" height="40" fill="#26a69a"/><rect x="667" y="700" width="7" height="6" fill="#26a69a"/>
<rect x="678" y="691" width="1" height="21" fill="#26a69a"/><rect x="675" y="696" width="7" height="5" fill="#26a69a"/>
<rect x="686" y="679" width="1" height="31" fill="#26a69a"/><rect x="683" y="689" width="7" height="8" fill="#26a69a"/>
<rect x="694" y="669" width="1" height="32" fill="#ef5350"/><rect x="691" y="689" width="7" height="8" fill="#ef5350"/>
<rect x="702" y="684" width="1" height="20" fill="#26a69a"/><rect x="699" y="685" width="7" height="13" fill="#26a69a"/>
<rect x="710" y="682" width="1" height="20" fill="#ef5350"/><rect x="707" y="685" width="7" height="1" fill="#ef5350"/>
<rect x="718" y="665" width="1" height="49" fill="#ef5350"/><rect x="715" y="685" width="7" height="14" fill="#ef5350"/>
<rect x="726" y="696" width="1" height="39" fill="#ef5350"/><rect x="723" y="698" width="7" height="15" fill="#ef5350"/>
<rect x="735" y="701" width="1" height="16" fill="#26a69a"/><rect x="732" y="712" width="7" height="2" fill="#26a69a"/>
<rect x="743" y="695" width="1" height="21" fill="#26a69a"/><rect x="740" y="699" width="7" height="13" fill="#26a69a"/>
<rect x="751" y="693" width="1" height="14" fill="#26a69a"/><rect x="748" y="697" width="7" height="3" fill="#26a69a"/>
<rect x="759" y="694" width="1" height="36" fill="#ef5350"/><rect x="756" y="697" width="7" height="25" fill="#ef5350"/>
<rect x="767" y="717" width="1" height="20" fill="#26a69a"/><rect x="764" y="720" width="7" height="2" fill="#26a69a"/>
<rect x="775" y="697" width="1" height="38" fill="#26a69a"/><rect x="772" y="701" width="7" height="19" fill="#26a69a"/>
<rect x="783" y="668" width="1" height="42" fill="#26a69a"/><rect x="780" y="675" width="7" height="28" fill="#26a69a"/>
<rect x="791" y="645" width="1" height="31" fill="#26a69a"/><rect x="788" y="664" width="7" height="12" fill="#26a69a"/>
<rect x="800" y="652" width="1" height="17" fill="#26a69a"/><rect x="797" y="658" width="7" height="6" fill="#26a69a"/>
<rect x="808" y="618" width="1" height="57" fill="#26a69a"/><rect x="805" y="634" width="7" height="25" fill="#26a69a"/>
<rect x="816" y="632" width="1" height="27" fill="#ef5350"/><rect x="813" y="634" width="7" height="11" fill="#ef5350"/>
<rect x="824" y="632" width="1" height="29" fill="#ef5350"/><rect x="821" y="644" width="7" height="6" fill="#ef5350"/>
<rect x="832" y="643" width="1" height="24" fill="#ef5350"/><rect x="829" y="649" width="7" height="3" fill="#ef5350"/>
<rect x="840" y="647" width="1" height="36" fill="#ef5350"/><rect x="837" y="651" width="7" height="24" fill="#ef5350"/>
<rect x="848" y="665" width="1" height="14" fill="#26a69a"/><rect x="845" y="669" width="7" height="6" fill="#26a69a"/>
<rect x="856" y="649" width="1" height="22" fill="#26a69a"/><rect x="853" y="650" width="7" height="20" fill="#26a69a"/>
<rect x="865" y="638" width="1" height="23" fill="#26a69a"/><rect x="862" y="648" width="7" height="3" fill="#26a69a"/>
<rect x="873" y="645" width="1" height="33" fill="#ef5350"/><rect x="870" y="648" width="7" height="21" fill="#ef5350"/>
<rect x="881" y="604" width="1" height="67" fill="#26a69a"/><rect x="878" y="625" width="7" height="44" fill="#26a69a"/>
<rect x="889" y="568" width="1" height="58" fill="#26a69a"/><rect x="886" y="581" width="7" height="45" fill="#26a69a"/>
<rect x="897" y="572" width="1" height="35" fill="#ef5350"/><rect x="894" y="581" width="7" height="11" fill="#ef5350"/>
<rect x="905" y="577" width="1" height="19" fill="#26a69a"/><rect x="902" y="585" width="7" height="7" fill="#26a69a"/>
<rect x="913" y="575" width="1" height="29" fill="#ef5350"/><rect x="910" y="585" width="7" height="13" fill="#ef5350"/>
<rect x="921" y="587" width="1" height="57" fill="#ef5350"/><rect x="918" y="597" width="7" height="26" fill="#ef5350"/>
<rect x="930" y="587" width="1" height="41" fill="#26a69a"/><rect x="927" y="600" width="7" height="23" fill="#26a69a"/>
<rect x="938" y="591" width="1" height="56" fill="#ef5350"/><rect x="935" y="600" width="7" height="32" fill="#ef5350"/>
<rect x="946" y="620" width="1" height="26" fill="#ef5350"/><rect x="943" y="631" width="7" height="2" fill="#ef5350"/>
<rect x="954" y="624" width="1" height="36" fill="#ef5350"/><rect x="951" y="632" width="7" height="11" fill="#ef5350"/>
<rect x="962" y="620" width="1" height="26" fill="#26a69a"/><rect x="959" y="634" width="7" height="9" fill="#26a69a"/>
<rect x="970" y="613" width="1" height="25" fill="#26a69a"/><rect x="967" y="615" width="7" height="20" fill="#26a69a"/>
<rect x="978" y="600" width="1" height="51" fill="#ef5350"/><rect x="975" y="615" width="7" height="27" fill="#ef5350"/>
<rect x="986" y="627" width="1" height="38" fill="#26a69a"/><rect x="983" y="630" width="7" height="12" fill="#26a69a"/>
<rect x="995" y="592" width="1" height="62" fill="#26a69a"/><rect x="992" y="603" width="7" height="29" fill="#26a69a"/>
<rect x="1003" y="569" width="1" height="48" fill="#26a69a"/><rect x="1000" y="576" width="7" height="28" fill="#26a69a"/>
<rect x="1011" y="497" width="1" height="83" fill="#26a69a"/><rect x="1008" y="502" width="7" height="75" fill="#26a69a"/>
<rect x="1019" y="478" width="1" height="88" fill="#ef5350"/><rect x="1016" y="502" width="7" height="40" fill="#ef5350"/>
<rect x="1027" y="494" width="1" height="54" fill="#26a69a"/><rect x="1024" y="506" width="7" height="36" fill="#26a69a"/>
<rect x="1035" y="495" width="1" height="51" fill="#ef5350"/><rect x="1032" y="506" width="7" height="19" fill="#ef5350"/>
<rect x="1043" y="504" width="1" height="31" fill="#26a69a"/><rect x="1040" y="513" width="7" height="12" fill="#26a69a"/>
<rect x="1051" y="463" width="1" height="52" fill="#26a69a"/><rect x="1048" y="488" width="7" height="26" fill="#26a69a"/>
<rect x="1060" y="475" width="1" height="36" fill="#ef5350"/><rect x="1057" y="488" width="7" height="2" fill="#ef5350"/>
<rect x="1068" y="461" width="1" height="40" fill="#26a69a"/><rect x="1065" y="463" width="7" height="27" fill="#26a69a"/>
<rect x="1076" y="461" width="1" height="50" fill="#ef5350"/><rect x="1073" y="463" width="7" height="31" fill="#ef5350"/>
<rect x="1084" y="489" width="1" height="46" fill="#ef5350"/><rect x="1081" y="493" width="7" height="25" fill="#ef5350"/>
<rect x="1092" y="484" width="1" height="39" fill="#26a69a"/><rect x="1089" y="494" width="7" height="24" fill="#26a69a"/>
<rect x="1100" y="448" width="1" height="48" fill="#26a69a"/><rect x="1097" y="452" width="7" height="43" fill="#26a69a"/>
<rect x="1108" y="428" width="1" height="75" fill="#ef5350"/><rect x="1105" y="452" width="7" height="8" fill="#ef5350"/>
<rect x="1116" y="456" width="1" height="30" fill="#ef5350"/><rect x="1113" y="459" width="7" height="15" fill="#ef5350"/>
<rect x="1125" y="392" width="1" height="83" fill="#26a69a"/><rect x="1122" y="400" width="7" height="74" fill="#26a69a"/>
<rect x="1133" y="317" width="1" height="98" fill="#26a69a"/><rect x="1130" y="319" width="7" height="81" fill="#26a69a"/>
<rect x="1141" y="265" width="1" height="133" fill="#26a69a"/><rect x="1138" y="304" width="7" height="16" fill="#26a69a"/>
<rect x="1149" y="208" width="1" height="118" fill="#26a69a"/><rect x="1146" y="212" width="7" height="93" fill="#26a69a"/>
<rect x="1157" y="186" width="1" height="69" fill="#ef5350"/><rect x="1154" y="212" width="7" height="9" fill="#ef5350"/>
<rect x="1165" y="218" width="1" height="100" fill="#ef5350"/><rect x="1162" y="220" width="7" height="70" fill="#ef5350"/>
<rect x="1173" y="274" width="1" height="184" fill="#ef5350"/><rect x="1170" y="288" width="7" height="94" fill="#ef5350"/>
<rect x="1181" y="360" width="1" height="73" fill="#ef5350"/><rect x="1178" y="381" width="7" height="3" fill="#ef5350"/>
<rect x="1190" y="327" width="1" height="83" fill="#26a69a"/><rect x="1187" y="347" width="7" height="37" fill="#26a69a"/>
<rect x="1198" y="273" width="1" height="89" fill="#26a69a"/><rect x="1195" y="274" width="7" height="75" fill="#26a69a"/>
<rect x="1206" y="198" width="1" height="88" fill="#26a69a"/><rect x="1203" y="198" width="7" height="76" fill="#26a69a"/>
<rect x="1214" y="161" width="1" height="140" fill="#ef5350"/><rect x="1211" y="198" width="7" height="59" fill="#ef5350"/>
<rect x="1222" y="221" width="1" height="57" fill="#26a69a"/><rect x="1219" y="235" width="7" height="23" fill="#26a69a"/>
<rect x="1230" y="183" width="1" height="74" fill="#26a69a"/><rect x="1227" y="198" width="7" height="39" fill="#26a69a"/>
<rect x="1238" y="191" width="1" height="104" fill="#ef5350"/><rect x="1235" y="199" width="7" height="93" fill="#ef5350"/>
<rect x="1246" y="234" width="1" height="71" fill="#26a69a"/><rect x="1243" y="235" width="7" height="57" fill="#26a69a"/>
<rect x="1255" y="216" width="1" height="47" fill="#26a69a"/><rect x="1252" y="226" width="7" height="10" fill="#26a69a"/>
<rect x="1263" y="224" width="1" height="36" fill="#ef5350"/><rect x="1260" y="226" width="7" height="21" fill="#ef5350"/>
<rect x="1271" y="239" width="1" height="90" fill="#ef5350"/><rect x="1268" y="246" width="7" height="71" fill="#ef5350"/>
<rect x="1279" y="270" width="1" height="92" fill="#26a69a"/><rect x="1276" y="280" width="7" height="37" fill="#26a69a"/>
<rect x="1287" y="277" width="1" height="53" fill="#ef5350"/><rect x="1284" y="281" width="7" height="27" fill="#ef5350"/>
<rect x="1295" y="305" width="1" height="48" fill="#ef5350"/><rect x="1292" y="307" width="7" height="30" fill="#ef5350"/>
<rect x="1303" y="279" width="1" height="60" fill="#26a69a"/><rect x="1300" y="289" width="7" height="47" fill="#26a69a"/>
<rect x="1311" y="239" width="1" height="61" fill="#26a69a"/><rect x="1308" y="248" width="7" height="42" fill="#26a69a"/>
<rect x="1320" y="246" width="1" height="31" fill="#ef5350"/><rect x="1317" y="248" width="7" height="9" fill="#ef5350"/>
<rect x="1328" y="236" width="1" height="35" fill="#26a69a"/><rect x="1325" y="251" width="7" height="6" fill="#26a69a"/>
<rect x="1336" y="173" width="1" height="95" fill="#26a69a"/><rect x="1333" y="176" width="7" height="76" fill="#26a69a"/>
</g>
<line x1="11" y1="176.5" x2="1511" y2="176.5" stroke="#26a69a" stroke-width="1" stroke-dasharray="1 2" shape-rendering="crispEdges"/>
<line x1="11" y1="949.8" x2="1511" y2="515" stroke="#0b0b0b" stroke-width="3.2" clip-path="url(#pane)"/>
<g shape-rendering="crispEdges" fill="#50535e">
<rect x="1511" y="66" width="1" height="991"/>
<rect x="11" y="1014" width="1596" height="1"/>
<rect x="1512" y="988" width="6" height="1"/>
<rect x="1512" y="941" width="6" height="1"/>
<rect x="1512" y="893" width="6" height="1"/>
<rect x="1512" y="846" width="6" height="1"/>
<rect x="1512" y="798" width="6" height="1"/>
<rect x="1512" y="751" width="6" height="1"/>
<rect x="1512" y="704" width="6" height="1"/>
<rect x="1512" y="656" width="6" height="1"/>
<rect x="1512" y="609" width="6" height="1"/>
<rect x="1512" y="562" width="6" height="1"/>
<rect x="1512" y="514" width="6" height="1"/>
<rect x="1512" y="467" width="6" height="1"/>
<rect x="1512" y="420" width="6" height="1"/>
<rect x="1512" y="372" width="6" height="1"/>
<rect x="1512" y="325" width="6" height="1"/>
<rect x="1512" y="277" width="6" height="1"/>
<rect x="1512" y="230" width="6" height="1"/>
<rect x="1512" y="183" width="6" height="1"/>
<rect x="1512" y="135" width="6" height="1"/>
<rect x="1512" y="88" width="6" height="1"/>
<rect x="93" y="1015" width="1" height="5"/>
<rect x="223" y="1015" width="1" height="5"/>
<rect x="353" y="1015" width="1" height="5"/>
<rect x="474" y="1015" width="1" height="5"/>
<rect x="596" y="1015" width="1" height="5"/>
<rect x="718" y="1015" width="1" height="5"/>
<rect x="840" y="1015" width="1" height="5"/>
<rect x="970" y="1015" width="1" height="5"/>
<rect x="1092" y="1015" width="1" height="5"/>
<rect x="1214" y="1015" width="1" height="5"/>
<rect x="1336" y="1015" width="1" height="5"/>
<rect x="1466" y="1015" width="1" height="5"/>
</g>
<rect x="10" y="65" width="1598" height="993" fill="none" stroke="#50535e" stroke-width="2" shape-rendering="crispEdges"/>
<g font-family="'Liberation Sans', Arial, sans-serif">
<text x="1523.51" y="95.0" font-size="18" font-weight="normal" fill="#50535e" textLength="54.44" lengthAdjust="spacingAndGlyphs">675.00</text>
<rect x="1535.5" y="75.5" width="47" height="29" rx="5" ry="5" fill="#fff" stroke="#d5d8df" stroke-width="1"/>
<rect x="1511" y="163" width="79" height="27" fill="#26a69a" shape-rendering="crispEdges"/>
<rect x="1512" y="191" width="88" height="27" fill="#26a69a" shape-rendering="crispEdges"/>
<rect x="1512" y="176" width="6" height="1" fill="#fff" shape-rendering="crispEdges"/>
<text x="8.77" y="24.6" font-size="18" font-weight="bold" fill="#1b1b1d" textLength="89.01" lengthAdjust="spacingAndGlyphs">samslav84</text>
<text x="103.65" y="24.6" font-size="18" font-weight="normal" fill="#1b1b1d" textLength="83.51" lengthAdjust="spacingAndGlyphs">published</text>
<text x="192.15" y="24.6" font-size="18" font-weight="normal" fill="#1b1b1d" textLength="22.58" lengthAdjust="spacingAndGlyphs">on</text>
<text x="219.46" y="24.6" font-size="18" font-weight="normal" fill="#1b1b1d" textLength="152.42" lengthAdjust="spacingAndGlyphs">TradingView.com,</text>
<text x="376.64" y="24.6" font-size="18" font-weight="normal" fill="#1b1b1d" textLength="86.35" lengthAdjust="spacingAndGlyphs">December</text>
<text x="469.76" y="24.6" font-size="18" font-weight="normal" fill="#1b1b1d" textLength="24.74" lengthAdjust="spacingAndGlyphs">16,</text>
<text x="499.91" y="24.6" font-size="18" font-weight="normal" fill="#1b1b1d" textLength="43.68" lengthAdjust="spacingAndGlyphs">2020</text>
<text x="550.03" y="24.6" font-size="18" font-weight="normal" fill="#1b1b1d" textLength="76.87" lengthAdjust="spacingAndGlyphs">16:51:51</text>
<text x="633.24" y="24.6" font-size="18" font-weight="normal" fill="#1b1b1d" textLength="34.46" lengthAdjust="spacingAndGlyphs">UTC</text>
<text x="8.78" y="49.4" font-size="18" font-weight="bold" fill="#1b1b1d" textLength="172.12" lengthAdjust="spacingAndGlyphs">COINBASE:ETHUSD,</text>
<text x="184.95" y="49.4" font-size="18" font-weight="bold" fill="#1b1b1d" textLength="24.26" lengthAdjust="spacingAndGlyphs">1D</text>
<text x="216.62" y="49.4" font-size="18" font-weight="normal" fill="#1b1b1d" textLength="59.24" lengthAdjust="spacingAndGlyphs">628.69</text>
<text x="301.72" y="49.4" font-size="18" font-weight="normal" fill="#1b1b1d" textLength="57.72" lengthAdjust="spacingAndGlyphs">+39.61</text>
<text x="365.98" y="49.4" font-size="18" font-weight="normal" fill="#1b1b1d" textLength="75.08" lengthAdjust="spacingAndGlyphs">(+6.72%)</text>
<text x="447.21" y="49.4" font-size="18" font-weight="bold" fill="#1b1b1d" textLength="21.02" lengthAdjust="spacingAndGlyphs">O:</text>
<text x="468.79" y="49.4" font-size="18" font-weight="normal" fill="#26a69a" textLength="59.69" lengthAdjust="spacingAndGlyphs">589.08</text>
<text x="534.17" y="49.4" font-size="18" font-weight="bold" fill="#1b1b1d" textLength="20.18" lengthAdjust="spacingAndGlyphs">H:</text>
<text x="555.62" y="49.4" font-size="18" font-weight="normal" fill="#26a69a" textLength="59.48" lengthAdjust="spacingAndGlyphs">629.94</text>
<text x="621.74" y="49.4" font-size="18" font-weight="bold" fill="#1b1b1d" textLength="15.78" lengthAdjust="spacingAndGlyphs">L:</text>
<text x="638.91" y="49.4" font-size="18" font-weight="normal" fill="#26a69a" textLength="58.35" lengthAdjust="spacingAndGlyphs">581.21</text>
<text x="704.81" y="49.4" font-size="18" font-weight="bold" fill="#1b1b1d" textLength="17.38" lengthAdjust="spacingAndGlyphs">C:</text>
<text x="723.71" y="49.4" font-size="18" font-weight="normal" fill="#26a69a" textLength="59.76" lengthAdjust="spacingAndGlyphs">628.69</text>
<text x="22.51" y="96.7" font-size="18" font-weight="bold" fill="#4a4e5a" textLength="85.75" lengthAdjust="spacingAndGlyphs">Ethereum</text>
<text x="113.50" y="96.7" font-size="18" font-weight="normal" fill="#4a4e5a" textLength="7.10" lengthAdjust="spacingAndGlyphs">/</text>
<text x="126.45" y="96.7" font-size="18" font-weight="bold" fill="#4a4e5a" textLength="36.88" lengthAdjust="spacingAndGlyphs">U.S.</text>
<text x="167.82" y="96.7" font-size="18" font-weight="bold" fill="#4a4e5a" textLength="56.49" lengthAdjust="spacingAndGlyphs">Dollar,</text>
<text x="228.12" y="96.7" font-size="18" font-weight="bold" fill="#4a4e5a" textLength="30.24" lengthAdjust="spacingAndGlyphs">1D,</text>
<text x="262.99" y="96.7" font-size="18" font-weight="bold" fill="#4a4e5a" textLength="90.44" lengthAdjust="spacingAndGlyphs">COINBASE</text>
<text x="23.80" y="122.7" font-size="18" font-weight="normal" fill="#4a4e5a" textLength="27.60" lengthAdjust="spacingAndGlyphs">Vol</text>
<text x="22.12" y="148.6" font-size="18" font-weight="normal" fill="#4a4e5a" textLength="30.18" lengthAdjust="spacingAndGlyphs">MA</text>
<text x="58.36" y="148.6" font-size="18" font-weight="normal" fill="#4a4e5a" textLength="32.21" lengthAdjust="spacingAndGlyphs">(20,</text>
<text x="96.03" y="148.6" font-size="18" font-weight="normal" fill="#4a4e5a" textLength="48.33" lengthAdjust="spacingAndGlyphs">close,</text>
<text x="148.89" y="148.6" font-size="18" font-weight="normal" fill="#4a4e5a" textLength="17.30" lengthAdjust="spacingAndGlyphs">0)</text>
<text x="1542.73" y="95.2" font-size="18" font-weight="normal" fill="#50535e" textLength="32.41" lengthAdjust="spacingAndGlyphs">USD</text>
<text x="1523.20" y="182.6" font-size="18" font-weight="normal" fill="#fff" stroke="#fff" stroke-width="0.95" textLength="55.00" lengthAdjust="spacingAndGlyphs">628.69</text>
<text x="1516.84" y="210.6" font-size="18" font-weight="normal" fill="#fff" stroke="#fff" stroke-width="0.95" textLength="69.91" lengthAdjust="spacingAndGlyphs">07:08:11</text>
<text x="50.69" y="1092.0" font-size="19" font-weight="normal" fill="#1b1b1d" textLength="105.76" lengthAdjust="spacingAndGlyphs">TradingView</text>
<text x="1523.51" y="995.0" font-size="18" font-weight="normal" fill="#50535e" textLength="54.44" lengthAdjust="spacingAndGlyphs">200.00</text>
<text x="1523.51" y="948.0" font-size="18" font-weight="normal" fill="#50535e" textLength="54.44" lengthAdjust="spacingAndGlyphs">225.00</text>
<text x="1523.51" y="900.0" font-size="18" font-weight="normal" fill="#50535e" textLength="54.44" lengthAdjust="spacingAndGlyphs">250.00</text>
<text x="1523.51" y="853.0" font-size="18" font-weight="normal" fill="#50535e" textLength="54.44" lengthAdjust="spacingAndGlyphs">275.00</text>
<text x="1523.76" y="805.0" font-size="18" font-weight="normal" fill="#50535e" textLength="54.18" lengthAdjust="spacingAndGlyphs">300.00</text>
<text x="1523.76" y="758.0" font-size="18" font-weight="normal" fill="#50535e" textLength="54.18" lengthAdjust="spacingAndGlyphs">325.00</text>
<text x="1523.76" y="711.0" font-size="18" font-weight="normal" fill="#50535e" textLength="54.18" lengthAdjust="spacingAndGlyphs">350.00</text>
<text x="1523.76" y="663.0" font-size="18" font-weight="normal" fill="#50535e" textLength="54.18" lengthAdjust="spacingAndGlyphs">375.00</text>
<text x="1524.01" y="616.0" font-size="18" font-weight="normal" fill="#50535e" textLength="53.93" lengthAdjust="spacingAndGlyphs">400.00</text>
<text x="1524.01" y="569.0" font-size="18" font-weight="normal" fill="#50535e" textLength="53.93" lengthAdjust="spacingAndGlyphs">425.00</text>
<text x="1524.01" y="521.0" font-size="18" font-weight="normal" fill="#50535e" textLength="53.93" lengthAdjust="spacingAndGlyphs">450.00</text>
<text x="1524.01" y="473.9" font-size="18" font-weight="normal" fill="#50535e" textLength="53.93" lengthAdjust="spacingAndGlyphs">475.00</text>
<text x="1523.76" y="426.9" font-size="18" font-weight="normal" fill="#50535e" textLength="54.18" lengthAdjust="spacingAndGlyphs">500.00</text>
<text x="1523.76" y="378.9" font-size="18" font-weight="normal" fill="#50535e" textLength="54.18" lengthAdjust="spacingAndGlyphs">525.00</text>
<text x="1523.76" y="331.9" font-size="18" font-weight="normal" fill="#50535e" textLength="54.18" lengthAdjust="spacingAndGlyphs">550.00</text>
<text x="1523.76" y="283.9" font-size="18" font-weight="normal" fill="#50535e" textLength="54.18" lengthAdjust="spacingAndGlyphs">575.00</text>
<text x="1523.51" y="236.9" font-size="18" font-weight="normal" fill="#50535e" textLength="54.44" lengthAdjust="spacingAndGlyphs">600.00</text>
<text x="1523.51" y="141.9" font-size="18" font-weight="normal" fill="#50535e" textLength="54.44" lengthAdjust="spacingAndGlyphs">650.00</text>
<text x="83.63" y="1044.0" font-size="18" font-weight="normal" fill="#50535e" textLength="18.69" lengthAdjust="spacingAndGlyphs">16</text>
<text x="209.00" y="1044.0" font-size="18" font-weight="normal" fill="#50535e" textLength="30.20" lengthAdjust="spacingAndGlyphs">Aug</text>
<text x="343.18" y="1044.0" font-size="18" font-weight="normal" fill="#50535e" textLength="19.58" lengthAdjust="spacingAndGlyphs">17</text>
<text x="459.34" y="1044.0" font-size="18" font-weight="normal" fill="#50535e" textLength="30.35" lengthAdjust="spacingAndGlyphs">Sep</text>
<text x="586.63" y="1044.0" font-size="18" font-weight="normal" fill="#50535e" textLength="18.69" lengthAdjust="spacingAndGlyphs">16</text>
<text x="703.62" y="1044.0" font-size="18" font-weight="normal" fill="#50535e" textLength="28.98" lengthAdjust="spacingAndGlyphs">Oct</text>
<text x="830.63" y="1044.0" font-size="18" font-weight="normal" fill="#50535e" textLength="18.69" lengthAdjust="spacingAndGlyphs">16</text>
<text x="954.35" y="1044.0" font-size="18" font-weight="normal" fill="#50535e" textLength="30.86" lengthAdjust="spacingAndGlyphs">Nov</text>
<text x="1082.63" y="1044.0" font-size="18" font-weight="normal" fill="#50535e" textLength="18.69" lengthAdjust="spacingAndGlyphs">16</text>
<text x="1198.99" y="1044.0" font-size="18" font-weight="normal" fill="#50535e" textLength="30.09" lengthAdjust="spacingAndGlyphs">Dec</text>
<text x="1326.63" y="1044.0" font-size="18" font-weight="normal" fill="#50535e" textLength="18.69" lengthAdjust="spacingAndGlyphs">16</text>
<text x="1444.80" y="1044.0" font-size="18" font-weight="normal" fill="#50535e" stroke="#50535e" stroke-width="0.95" textLength="40.20" lengthAdjust="spacingAndGlyphs">2021</text>
<path d="M281.3 49.4 L288.8 36.2 L296.3 49.4 Z" fill="#26a69a"/>
<path d="M13.4 1096.9 C10.5 1096.5 9 1094.5 9 1092.9 L9 1087.6 C9.5 1084.6 12.5 1082.7 16.4 1082.4 C17 1078.4 20.6 1075 25.8 1075 C30.1 1075 33.6 1077.6 35 1081.5 C36.6 1080.9 38.6 1080.8 40.9 1081.1 C43.6 1082.6 46.5 1087.5 48 1090.6 L48 1092.9 C47.5 1095.1 46 1096.9 44.7 1096.9 Z" fill="#3aa0f2"/>
<path d="M8.2 1095.7 L23.7 1083.5 L33.1 1091.6 L42.4 1082.1" fill="none" stroke="#fff" stroke-width="1.3"/>
<circle cx="23.7" cy="1083.5" r="2.5" fill="#fff"/><circle cx="33.1" cy="1091.5" r="2.4" fill="#fff"/>
</g>
</svg>
</body></html>
